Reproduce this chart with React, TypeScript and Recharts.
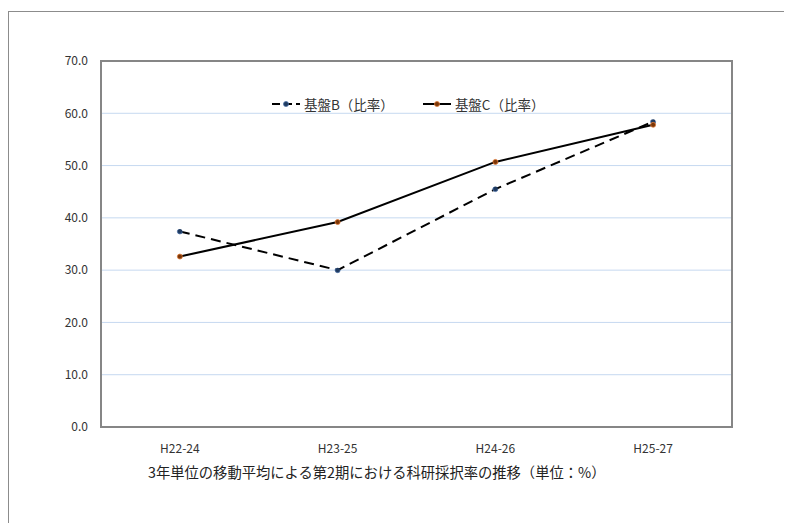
import React from 'react';
import { LineChart, Line, XAxis, YAxis, CartesianGrid, Legend, ReferenceArea } from 'recharts';

const periods = ['H22-24', 'H23-25', 'H24-26', 'H25-27'];
const kibanB = [37.4, 30.0, 45.5, 58.4];
const kibanC = [32.6, 39.2, 50.7, 57.8];
const yTicks = [0, 10, 20, 30, 40, 50, 60, 70];

const FONT = '"Noto Sans CJK JP", "Noto Sans", sans-serif';

const data = periods.map((p, i) => ({ period: p, b: kibanB[i], c: kibanC[i] }));

const seriesInfo = [
  { key: 'b', name: '基盤B（比率）', dash: '10 6', dotFill: '#1f3a5f', dotStroke: '#4a6fa5' },
  { key: 'c', name: '基盤C（比率）', dash: undefined, dotFill: '#7a3608', dotStroke: '#e07b39' },
];

const LegendContent = () => (
  <div style={{ display: 'flex', gap: 29, fontFamily: FONT, fontSize: 13.5, color: '#333' }}>
    {seriesInfo.map((s) => (
      <div key={s.key} style={{ display: 'flex', alignItems: 'center', gap: 4 }}>
        <svg width={28} height={10}>
          <line x1={0} y1={5} x2={28} y2={5} stroke="#000" strokeWidth={2} strokeDasharray={s.dash ? '8 4' : undefined} />
          <circle cx={14} cy={5} r={2.5} fill={s.dotFill} stroke={s.dotStroke} strokeWidth={0.8} />
        </svg>
        <span>{s.name}</span>
      </div>
    ))}
  </div>
);

export default function App() {
  return (
    <div style={{ position: 'relative', width: 784, height: 515, overflow: 'hidden' }}>
      <div
        style={{
          position: 'absolute',
          left: 0,
          top: 3,
          width: 790,
          height: 520,
          borderTop: '1.5px solid #8c8c8c',
          borderLeft: '1.5px solid #8c8c8c',
          boxSizing: 'border-box',
        }}
      />
      <LineChart
        width={784}
        height={515}
        data={data}
        margin={{ top: 53, right: 60, left: 0, bottom: 66 }}
        style={{ position: 'absolute', left: 0, top: 0 }}
      >
        <CartesianGrid vertical={false} stroke="#c6d9f0" strokeWidth={1} />
        <XAxis
          dataKey="period"
          scale="band"
          height={30}
          tickLine={false}
          tickSize={0}
          tickMargin={17}
          axisLine={false}
          tick={{ fontSize: 12, fill: '#333', fontFamily: FONT }}
        />
        <YAxis
          width={93}
          domain={[0, 70]}
          ticks={yTicks}
          tickFormatter={(v: number) => v.toFixed(1)}
          tickLine={false}
          tickSize={0}
          tickMargin={13}
          axisLine={false}
          tick={{ fontSize: 12, fill: '#333', fontFamily: FONT }}
        />
        <ReferenceArea y1={0} y2={70} fill="none" stroke="#868686" strokeWidth={2} ifOverflow="visible" />
        <Legend
          layout="horizontal"
          verticalAlign="middle"
          align="center"
          content={<LegendContent />}
          wrapperStyle={{ position: 'absolute', top: 86, left: 264, width: 320 }}
        />
        {seriesInfo.map((s) => (
          <Line
            key={s.key}
            dataKey={s.key}
            name={s.name}
            stroke="#000"
            strokeWidth={2}
            strokeDasharray={s.dash}
            dot={{ r: 2.5, fill: s.dotFill, stroke: s.dotStroke, strokeWidth: 0.8 }}
            activeDot={false}
            isAnimationActive={false}
          />
        ))}
      </LineChart>
      <div
        style={{
          position: 'absolute',
          left: 140,
          top: 453,
          fontFamily: FONT,
          fontSize: 14.3,
          color: '#222',
          whiteSpace: 'nowrap',
        }}
      >
        3年単位の移動平均による第2期における科研採択率の推移（単位：%）
      </div>
    </div>
  );
}
